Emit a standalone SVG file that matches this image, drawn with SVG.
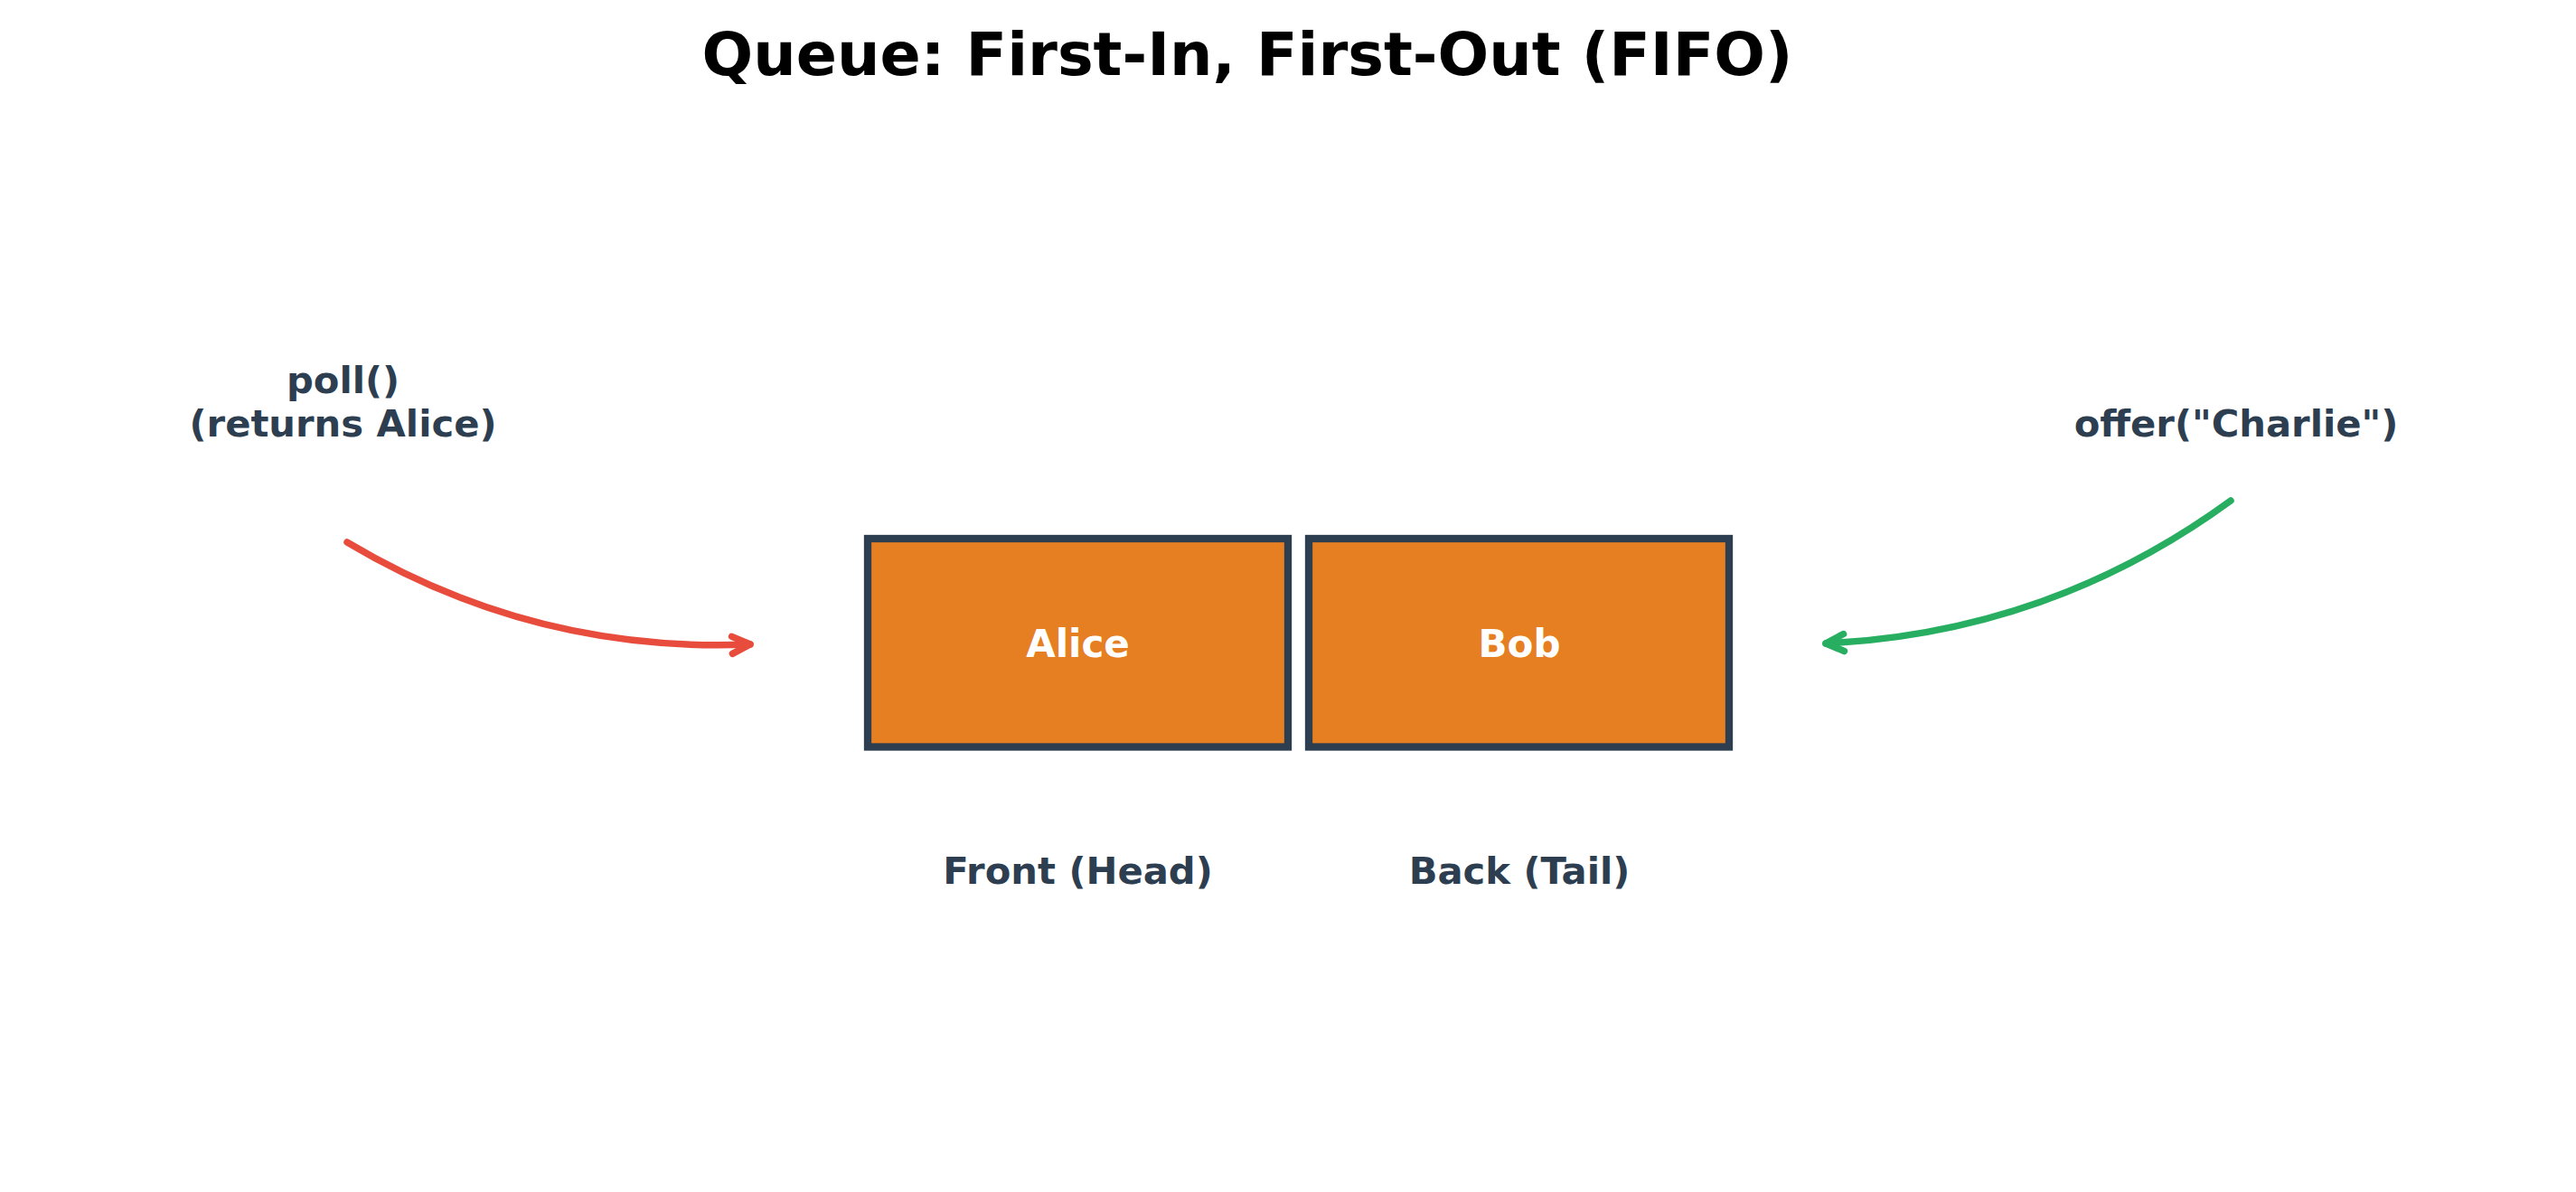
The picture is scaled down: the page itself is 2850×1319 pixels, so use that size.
<svg xmlns="http://www.w3.org/2000/svg" width="2850" height="1319" viewBox="0 0 2850 1319">
<style>
text{font-family:"DejaVu Sans","Liberation Sans",sans-serif;font-weight:bold;text-anchor:middle}
.title{font-size:66.7px;fill:#000}
.lbl{font-size:41.7px;fill:#2c3e50}
.in{font-size:42px;fill:#ffffff}
.box{fill:#e67e22;stroke:#2c3e50;stroke-width:8.3}
.conn{fill:none;stroke-width:7.5;stroke-linecap:round;stroke-linejoin:round}
</style>
<defs>
<marker id="hr" markerUnits="userSpaceOnUse" markerWidth="40" markerHeight="40" viewBox="-30 -20 40 40" refX="0" refY="0" orient="auto">
<path d="M -20 -9.5 L 0 0 L -20 9.5" fill="none" stroke="#e74c3c" stroke-width="7.5" stroke-linecap="round" stroke-linejoin="round"/>
</marker>
<marker id="hg" markerUnits="userSpaceOnUse" markerWidth="40" markerHeight="40" viewBox="-30 -20 40 40" refX="0" refY="0" orient="auto">
<path d="M -20 -9.5 L 0 0 L -20 9.5" fill="none" stroke="#27ae60" stroke-width="7.5" stroke-linecap="round" stroke-linejoin="round"/>
</marker>
</defs>
<rect width="2850" height="1319" fill="#ffffff"/>
<text class="title" x="1380" y="83">Queue: First-In, First-Out (FIFO)</text>
<g id="connectors">
<path class="conn" stroke="#e74c3c" d="M 384 600 Q 590 723 830 713" marker-end="url(#hr)"/>
<path class="conn" stroke="#27ae60" d="M 2468 554 Q 2267.7 700.2 2020 712" marker-end="url(#hg)"/>
</g>
<g id="node-alice">
<rect class="box" x="960" y="596" width="465" height="230.5"/>
<text class="in" x="1192.5" y="726.5">Alice</text>
</g>
<g id="node-bob">
<rect class="box" x="1448" y="596" width="465" height="230.5"/>
<text class="in" x="1681" y="726.5">Bob</text>
</g>
<g id="label-poll">
<text class="lbl" x="379.5" y="434.5">poll()</text>
<text class="lbl" x="379.5" y="482.5">(returns Alice)</text>
</g>
<g id="label-offer">
<text class="lbl" x="2474" y="482.5">offer("Charlie")</text>
</g>
<g id="label-front">
<text class="lbl" x="1192.5" y="977.5">Front (Head)</text>
</g>
<g id="label-back">
<text class="lbl" x="1681" y="977.5">Back (Tail)</text>
</g>
</svg>
